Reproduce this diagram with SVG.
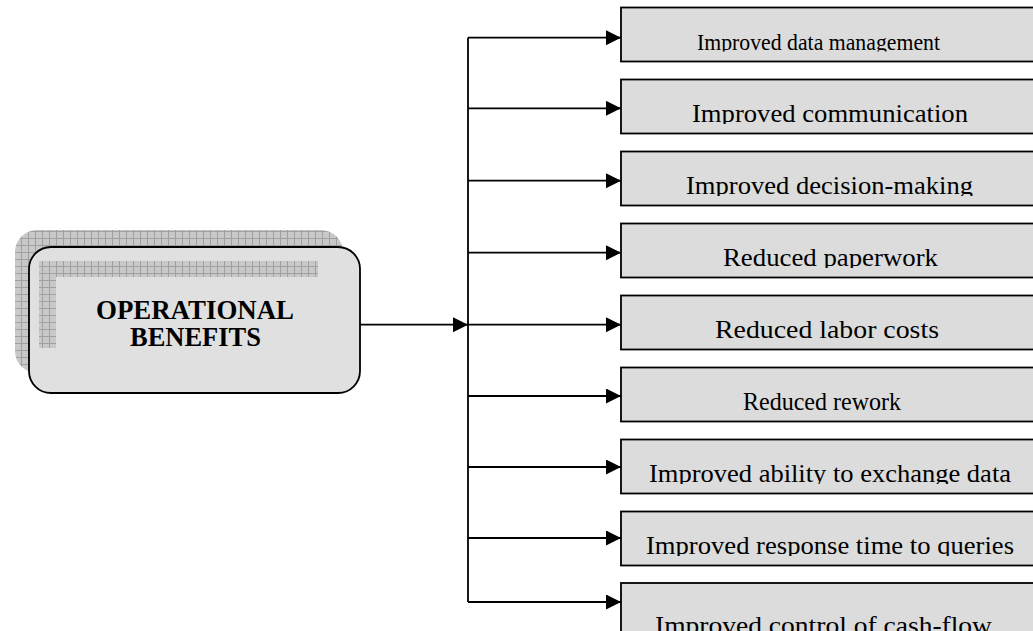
<svg xmlns="http://www.w3.org/2000/svg" width="1033" height="631" viewBox="0 0 1033 631">
<style>
.conn{stroke:#000;stroke-width:1.8;fill:none}
.box{fill:#dcdcdc;stroke:#000;stroke-width:1.8}
.lbl{font-family:"Liberation Serif","Times New Roman",serif;font-size:26px;fill:#000}
.ctr{font-family:"Liberation Serif","Times New Roman",serif;font-size:27px;font-weight:bold;fill:#000;text-anchor:middle}
</style>
<defs>
<marker id="arr" markerUnits="userSpaceOnUse" markerWidth="16" markerHeight="16" refX="15" refY="7.5" orient="auto">
<path d="M0,0 L15,7.5 L0,15 z" fill="#000"/>
</marker>
<pattern id="grid" width="7" height="7" patternUnits="userSpaceOnUse">
<rect width="7" height="7" fill="#c8c8c8"/>
<path d="M0 0.5H7M0.5 0V7" stroke="#a0a0a0" stroke-width="1"/>
</pattern>
<clipPath id="c1"><rect x="621" y="7.5" width="420" height="44"/></clipPath>
<clipPath id="c2"><rect x="621" y="79.5" width="420" height="44.5"/></clipPath>
<clipPath id="c3"><rect x="621" y="151.5" width="420" height="44.5"/></clipPath>
<clipPath id="c4"><rect x="621" y="223.5" width="420" height="44.5"/></clipPath>
<clipPath id="c5"><rect x="621" y="295.5" width="420" height="44.5"/></clipPath>
<clipPath id="c6"><rect x="621" y="367.5" width="420" height="44.5"/></clipPath>
<clipPath id="c7"><rect x="621" y="439.5" width="420" height="44.5"/></clipPath>
<clipPath id="c8"><rect x="621" y="511.5" width="420" height="44.5"/></clipPath>
<clipPath id="c9"><rect x="621" y="583" width="420" height="60"/></clipPath>
</defs>
<rect width="1033" height="631" fill="#fff"/>

<g id="operational-benefits">
<rect x="15" y="230" width="328" height="143" rx="22" fill="url(#grid)"/>
<rect x="29" y="247" width="331" height="146" rx="22" fill="#e0e0e0" stroke="#000" stroke-width="1.8"/>
<rect x="39" y="261" width="279" height="16" fill="url(#grid)"/>
<rect x="39" y="277" width="17" height="71" fill="url(#grid)"/>
<text class="ctr" x="195" y="319" textLength="198" lengthAdjust="spacingAndGlyphs">OPERATIONAL</text>
<text class="ctr" x="195.5" y="346" textLength="131" lengthAdjust="spacingAndGlyphs">BENEFITS</text>
</g>

<g id="connectors">
<path class="conn" d="M360 324.7H468" marker-end="url(#arr)"/>
<path class="conn" d="M468 37.7V602"/>
<path class="conn" d="M468 37.7H621" marker-end="url(#arr)"/>
<path class="conn" d="M468 108.3H621" marker-end="url(#arr)"/>
<path class="conn" d="M468 180.7H621" marker-end="url(#arr)"/>
<path class="conn" d="M468 252.7H621" marker-end="url(#arr)"/>
<path class="conn" d="M468 324.7H621" marker-end="url(#arr)"/>
<path class="conn" d="M468 396H621" marker-end="url(#arr)"/>
<path class="conn" d="M468 467H621" marker-end="url(#arr)"/>
<path class="conn" d="M468 538H621" marker-end="url(#arr)"/>
<path class="conn" d="M468 602H621" marker-end="url(#arr)"/>
</g>

<g id="n1"><rect class="box" x="621" y="7.5" width="420" height="54"/>
<text class="lbl" clip-path="url(#c1)" x="697" y="49.5" style="font-size:23px" textLength="243" lengthAdjust="spacingAndGlyphs">Improved data management</text></g>
<g id="n2"><rect class="box" x="621" y="79.5" width="420" height="54"/>
<text class="lbl" clip-path="url(#c2)" x="692" y="122" textLength="276" lengthAdjust="spacingAndGlyphs">Improved communication</text></g>
<g id="n3"><rect class="box" x="621" y="151.5" width="420" height="54"/>
<text class="lbl" clip-path="url(#c3)" x="686" y="194" textLength="287" lengthAdjust="spacingAndGlyphs">Improved decision-making</text></g>
<g id="n4"><rect class="box" x="621" y="223.5" width="420" height="54"/>
<text class="lbl" clip-path="url(#c4)" x="723" y="266" textLength="215" lengthAdjust="spacingAndGlyphs">Reduced paperwork</text></g>
<g id="n5"><rect class="box" x="621" y="295.5" width="420" height="54"/>
<text class="lbl" clip-path="url(#c5)" x="715" y="338" textLength="224" lengthAdjust="spacingAndGlyphs">Reduced labor costs</text></g>
<g id="n6"><rect class="box" x="621" y="367.5" width="420" height="54"/>
<text class="lbl" clip-path="url(#c6)" x="743" y="410" textLength="158" lengthAdjust="spacingAndGlyphs">Reduced rework</text></g>
<g id="n7"><rect class="box" x="621" y="439.5" width="420" height="54"/>
<text class="lbl" clip-path="url(#c7)" x="649" y="482" textLength="362" lengthAdjust="spacingAndGlyphs">Improved ability to exchange data</text></g>
<g id="n8"><rect class="box" x="621" y="511.5" width="420" height="54"/>
<text class="lbl" clip-path="url(#c8)" x="646" y="554" textLength="368" lengthAdjust="spacingAndGlyphs">Improved response time to queries</text></g>
<g id="n9"><rect class="box" x="621" y="583" width="420" height="60"/>
<text class="lbl" clip-path="url(#c9)" x="655" y="634" textLength="337" lengthAdjust="spacingAndGlyphs">Improved control of cash-flow</text></g>
</svg>
